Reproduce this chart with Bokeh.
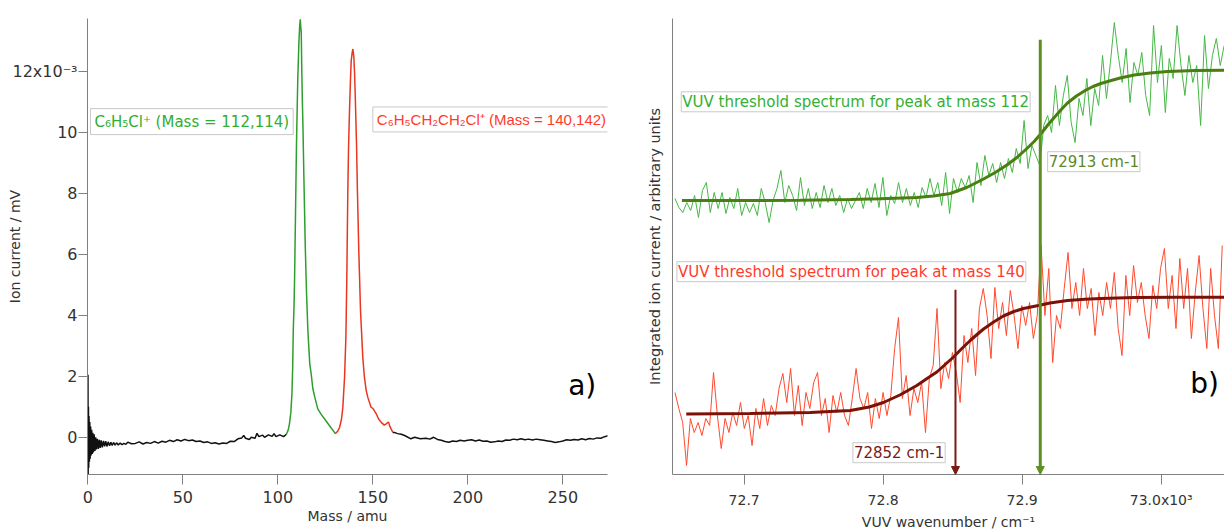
from bokeh.plotting import figure
from bokeh.models import Range1d, Label, Arrow, NormalHead, FixedTicker
from bokeh.layouts import row
from bokeh.embed import file_html
from bokeh.resources import INLINE
import numpy as np

FONT = "DejaVu Sans"

# ---------------- panel a) : mass spectrum (signal in 1e-3 mV) ----------------
black1_mass = [0.0, 0.05, 0.15, 0.3, 0.45, 0.6, 0.8, 1.0, 1.2, 1.45, 1.7, 2.0, 2.3, 2.6, 2.9, 3.3, 3.7,
               4.1, 4.5, 5.0, 5.5, 6.0, 6.5, 7.0, 7.6, 8.2, 8.8, 9.4, 10.0, 10.7, 11.4, 12.1, 12.8,
               13.5, 14.3, 15.1, 16, 17, 18, 19, 20, 21, 23, 25, 27, 29, 31, 33, 35, 37, 39, 41, 43,
               45, 47, 49, 51, 53, 55, 57, 59, 61, 63, 65, 67, 69, 71, 73, 75, 77, 79, 81, 82, 83,
               85, 86, 88, 89, 90, 92, 93, 95, 97, 98, 99, 101, 103, 104.5]
black1_sig = [0.0, 2.05, -1.2, 1.0, -1.0, 0.7, -0.8, 0.5, -0.7, 0.35, -0.6, 0.25, -0.55, 0.15, -0.5,
              0.1, -0.45, 0.0, -0.4, -0.05, -0.38, -0.08, -0.35, -0.1, -0.33, -0.12, -0.3, -0.13,
              -0.3, -0.15, -0.28, -0.16, -0.27, -0.17, -0.26, -0.18, -0.25, -0.19, -0.24, -0.2,
              -0.23, -0.16, -0.21, -0.2, -0.15, -0.22, -0.17, -0.2, -0.14, -0.19, -0.13, -0.16,
              -0.1, -0.14, -0.08, -0.12, -0.07, -0.11, -0.09, -0.14, -0.12, -0.17, -0.15, -0.2,
              -0.18, -0.22, -0.19, -0.2, -0.13, -0.14, -0.05, -0.02, 0.06, -0.03, -0.07, 0.0,
              -0.03, 0.13, 0.02, 0.07, 0.0, 0.08, 0.03, 0.12, 0.02, 0.08, 0.02, 0.1]

green_mass = [104.5, 105.5, 106.1, 106.8, 107.4, 107.8, 108.1, 108.5, 108.8, 109.3, 109.8, 110.2,
              110.5, 111.1, 111.5, 111.8, 112.1, 112.3, 112.6, 112.9, 113.2, 113.7, 114.4, 115.1,
              115.8, 116.8, 117.5, 118.4, 119.3, 121.0, 122.8, 124.6, 127.2, 129.8, 130.2]
green_sig = [0.1, 0.25, 0.44, 0.8, 1.42, 2.3, 3.5, 4.3, 5.2, 7.4, 9.6, 10.9, 11.8, 13.0, 13.5, 13.7,
             13.4, 13.3, 12.0, 11.0, 10.2, 8.5, 6.3, 4.7, 3.5, 2.4, 2.1, 1.6, 1.35, 0.93, 0.75, 0.6,
             0.38, 0.16, 0.12]

red_mass = [130.2, 131.5, 132.5, 133.5, 134.2, 135.1, 135.8, 136.3, 136.8, 137.2, 137.7, 138.2,
            138.6, 139.1, 139.5, 140.0, 140.4, 140.7, 141.4, 141.9, 142.6, 143.5, 144.7, 145.5,
            146.5, 147.4, 149.1, 150.0, 151.8, 153.0, 154.4, 156.0, 157.0, 158.2, 159.0, 160.5]
red_sig = [0.12, 0.2, 0.33, 0.6, 0.98, 1.97, 3.28, 5.25, 8.0, 9.5, 10.7, 11.7, 12.35, 12.6, 12.73,
           12.46, 11.9, 11.26, 9.6, 8.0, 6.1, 4.15, 2.62, 2.0, 1.53, 1.3, 0.98, 0.95, 0.77, 0.6,
           0.49, 0.4, 0.44, 0.5, 0.35, 0.16]

black2_mass = [160.5, 161.3, 163, 165, 167, 170, 172, 175, 178, 180, 182, 184, 186, 188, 190, 192,
               194, 196, 198, 200, 202, 204, 206, 208, 210, 212, 214, 216, 218, 220, 222, 224, 226,
               228, 230, 232, 234, 236, 238, 240, 242, 244, 246, 248, 250, 252, 254, 256, 258, 260,
               262, 264, 266, 268, 270, 272, 273.8]
black2_sig = [0.16, 0.16, 0.12, 0.1, 0.05, -0.05, 0.0, -0.05, -0.03, -0.06, 0.0, -0.07, -0.1, -0.14,
              -0.16, -0.12, -0.14, -0.1, -0.12, -0.1, -0.08, -0.12, -0.09, -0.13, -0.12, -0.16,
              -0.15, -0.12, -0.14, -0.09, -0.1, -0.06, -0.08, -0.05, -0.08, -0.06, -0.09, -0.06,
              -0.08, -0.1, -0.12, -0.14, -0.17, -0.15, -0.12, -0.08, -0.1, -0.07, -0.09, -0.05,
              -0.08, -0.04, -0.06, -0.02, -0.03, 0.02, 0.05]

mass_ticks = [0, 50, 100, 150, 200, 250]
sig_ticks = [0, 2, 4, 6, 8, 10, 12]
sig_top_label = "12x10\u207b\u00b3"

# ---------------- panel b) : VUV threshold spectra (arbitrary units) ----------------
green_trace = [276, 267, 262, 272, 264, 279, 257, 284, 292, 262, 282, 266, 282, 261, 277, 266, 286,
               259, 272, 262, 271, 259, 286, 272, 252, 274, 286, 304, 272, 289, 279, 264, 297, 269,
               286, 266, 282, 267, 289, 272, 286, 269, 279, 262, 276, 266, 274,
               282, 266, 286, 272, 291, 267, 297, 259, 279, 271, 292, 272, 286, 269, 282, 267, 287,
               277, 296, 279, 292, 269, 302, 261, 296, 282, 296, 287, 299, 272, 312, 289, 319, 299,
               311, 292, 312, 296, 316, 302, 326, 311, 354, 306, 329, 319,
               309, 349, 359, 342, 389, 349, 379, 399, 352, 332, 376, 359, 396, 349, 386, 369, 419,
               376, 412, 452, 419, 392, 426, 372, 412, 399, 422, 379, 359, 449, 392, 429, 362, 416,
               396, 449, 409, 379, 419, 392, 409, 349, 439, 386, 419, 436, 409, 429]
red_trace = [82, 66, 52, 9, 56, 42, 52, 39, 56, 49, 102, 59, 26, 56, 42, 62, 49, 72, 46, 59, 29, 66,
             46, 76, 49, 69, 59, 86, 101, 72, 106, 59, 89, 49, 82, 66, 92, 102, 59, 76, 42, 79, 62,
             82, 59, 49, 76, 106, 76,
             66, 82, 46, 76, 56, 82, 59, 79, 126, 157, 76, 99, 59, 86, 72, 92, 42, 96, 109, 166, 86,
             112, 96, 122, 102, 72, 139, 112, 146, 99, 166, 186, 159, 116, 187, 146, 172, 139, 184,
             159, 126, 169, 149, 172, 136, 159, 229,
             159, 206, 112, 159, 146, 186, 222, 166, 192, 159, 206, 166, 186, 139, 182, 159, 192,
             166, 202, 146, 119, 199, 159, 209, 172, 192, 159, 136, 189, 166, 206, 226, 166, 199,
             146, 216, 166, 206, 136, 182, 219, 166, 126, 206, 159, 126, 229]
green_wn = np.linspace(72.6502, 73.0453, len(green_trace))
red_wn = np.linspace(72.6502, 73.0439, len(red_trace))

green_fit_wn = [72.6552, 72.7043, 72.7403, 72.7763, 72.7978, 72.8242, 72.8362, 72.8482, 72.8601,
                72.8722, 72.8806, 72.8890, 72.8962, 72.9034, 72.9086, 72.9142, 72.9187, 72.9237,
                72.9281, 72.9326, 72.9390, 72.9453, 72.9510, 72.9566, 72.9640, 72.9705, 72.9806,
                72.9921, 73.0045, 73.0245, 73.0453]
green_fit = [274, 274, 274.3, 275, 275.8, 277, 278.5, 281, 287, 295.5, 302, 309.5, 317, 326, 333,
             342, 350, 358, 365, 371.5, 378.5, 384, 388, 391, 394, 396.5, 399.5, 401.5, 403, 404,
             404.3]
red_fit_wn = [72.6583, 72.7043, 72.7475, 72.7763, 72.7900, 72.8002, 72.8120, 72.8242, 72.8310,
              72.8386, 72.8446, 72.8506, 72.8566, 72.8626, 72.8675, 72.8722, 72.8800, 72.8865,
              72.8940, 72.9009, 72.9117, 72.9200, 72.9326, 72.9450, 72.9566, 72.9806, 73.0100,
              73.0453]
red_fit = [60.5, 61, 62, 64, 67.5, 72, 79.5, 89, 95.5, 102.5, 110, 117.5, 126, 134, 140, 145.5,
           153, 158.5, 163, 166, 169, 171.5, 174, 175.2, 176, 177, 177.2, 177.3]

thr_112 = 72.913
thr_140 = 72.852
wn_ticks = [72.7, 72.8, 72.9, 73.0]

AX = "#808080"
TXT = "#333333"


def style_axis(ax, label_size="14px"):
    ax.axis_line_color = AX
    ax.major_tick_line_color = AX
    ax.minor_tick_line_color = None
    ax.major_tick_in = 0
    ax.major_tick_out = 10
    ax.major_label_text_font = FONT
    ax.major_label_text_font_size = label_size
    ax.major_label_text_color = TXT
    ax.axis_label_text_font = FONT
    ax.axis_label_text_font_size = "14px"
    ax.axis_label_text_font_style = "normal"
    ax.axis_label_text_color = TXT


# ---- figure a
pA = figure(width=630, height=532, output_backend="svg", toolbar_location=None,
            x_range=Range1d(-0.2, 273.5), y_range=Range1d(-1.22, 13.73),
            min_border_left=87, min_border_right=23, min_border_top=18, min_border_bottom=58)
pA.outline_line_color = None
pA.grid.visible = False
style_axis(pA.xaxis[0], "16px")
style_axis(pA.yaxis[0], "16px")
pA.xaxis.ticker = FixedTicker(ticks=mass_ticks)
pA.yaxis.ticker = FixedTicker(ticks=sig_ticks)
pA.yaxis.major_label_overrides = {12: sig_top_label}
pA.xaxis.axis_label = "Mass / amu"
pA.yaxis.axis_label = "Ion current / mV"
pA.xaxis.major_label_standoff = 6
pA.xaxis.axis_label_standoff = 2
pA.yaxis.major_tick_out = 9
pA.yaxis.major_label_standoff = 1
pA.yaxis.axis_label_standoff = -14

pA.line(black1_mass, black1_sig, line_color="#111111", line_width=1.5)
pA.line(green_mass, green_sig, line_color="#2e9e2e", line_width=1.5)
pA.line(red_mass, red_sig, line_color="#e8361f", line_width=1.5)
pA.line(black2_mass, black2_sig, line_color="#111111", line_width=1.5)

pA.add_layout(Label(x=1.37, y=10.35, text="C\u2086H\u2085Cl\u207a (Mass = 112,114)",
                    text_font=FONT, text_font_size="15px", text_color="#2fae2f",
                    text_baseline="middle", border_line_color="#c8c8c8",
                    background_fill_color="white", padding=4))
pA.add_layout(Label(x=150.0, y=10.42,
                    text="C\u2086H\u2085CH\u2082CH\u2082Cl\u207a (Mass = 140,142)",
                    text_font="Liberation Sans", text_font_size="15px", text_color="#ff3a2a",
                    text_baseline="middle", border_line_color="#c8c8c8",
                    background_fill_color="white", padding=4))
pA.add_layout(Label(x=252.8, y=1.69, text="a)", text_font=FONT, text_font_size="28px",
                    text_color="black", text_baseline="alphabetic"))

# ---- figure b
pB = figure(width=594, height=532, output_backend="svg", toolbar_location=None,
            x_range=Range1d(72.64842, 73.04554), y_range=Range1d(0, 456),
            min_border_left=42, min_border_right=0, min_border_top=18, min_border_bottom=58)
pB.outline_line_color = None
pB.grid.visible = False
for ax in (pB.xaxis[0], pB.yaxis[0]):
    style_axis(ax)
pB.xaxis.ticker = FixedTicker(ticks=wn_ticks)
pB.xaxis.major_label_overrides = {73.0: "73.0x10\u00b3"}
pB.yaxis.ticker = FixedTicker(ticks=[])
pB.yaxis.major_tick_out = 0
pB.yaxis.major_label_standoff = 0
pB.yaxis.axis_label_standoff = 10
pB.yaxis.axis_label_text_font_size = "14.5px"
pB.xaxis.axis_label = "VUV wavenumber / cm\u207b\u00b9"
pB.yaxis.axis_label = "Integrated ion current / arbitrary units"
pB.xaxis.major_label_standoff = 7
pB.xaxis.axis_label_standoff = 3

pB.line(green_wn, green_trace, line_color="#45b845", line_width=1)
pB.line(red_wn, red_trace, line_color="#ff4a2e", line_width=1)
pB.line(green_fit_wn, green_fit, line_color="#4a7d12", line_width=3)
pB.line(red_fit_wn, red_fit, line_color="#7a1208", line_width=3)

GL = "#5e8f22"
RL = "#7a1a14"
pB.add_layout(Arrow(end=NormalHead(size=8, fill_color=GL, line_color=GL),
                    x_start=thr_112, y_start=434.7, x_end=thr_112, y_end=0,
                    line_color=GL, line_width=3))
pB.add_layout(Arrow(end=NormalHead(size=8, fill_color=RL, line_color=RL),
                    x_start=thr_140, y_start=184.7, x_end=thr_140, y_end=0,
                    line_color=RL, line_width=2))

pB.add_layout(Label(x=72.6547, y=372.7, text="VUV threshold spectrum for peak at mass 112",
                    text_font=FONT, text_font_size="15px", text_color="#33b033",
                    text_baseline="middle", border_line_color="#c8c8c8",
                    background_fill_color="white", padding=1))
pB.add_layout(Label(x=72.9183, y=312.8, text="72913 cm-1",
                    text_font=FONT, text_font_size="15px", text_color="#5b8a2a",
                    text_baseline="middle", border_line_color="#c8c8c8",
                    background_fill_color="white", padding=1))
pB.add_layout(Label(x=72.6516, y=202.8, text="VUV threshold spectrum for peak at mass 140",
                    text_font=FONT, text_font_size="15px", text_color="#ff3b2b",
                    text_baseline="middle", border_line_color="#c8c8c8",
                    background_fill_color="white", padding=1))
pB.add_layout(Label(x=72.7782, y=21.8, text="72852 cm-1",
                    text_font=FONT, text_font_size="15px", text_color="#7a1a14",
                    text_baseline="middle", border_line_color="#c8c8c8",
                    background_fill_color="white", padding=1))
pB.add_layout(Label(x=73.0209, y=91, text="b)", text_font=FONT, text_font_size="28px",
                    text_color="black", text_baseline="alphabetic"))

layout = row(pA, pB)
open("out.html", "w").write(file_html(layout, INLINE))
